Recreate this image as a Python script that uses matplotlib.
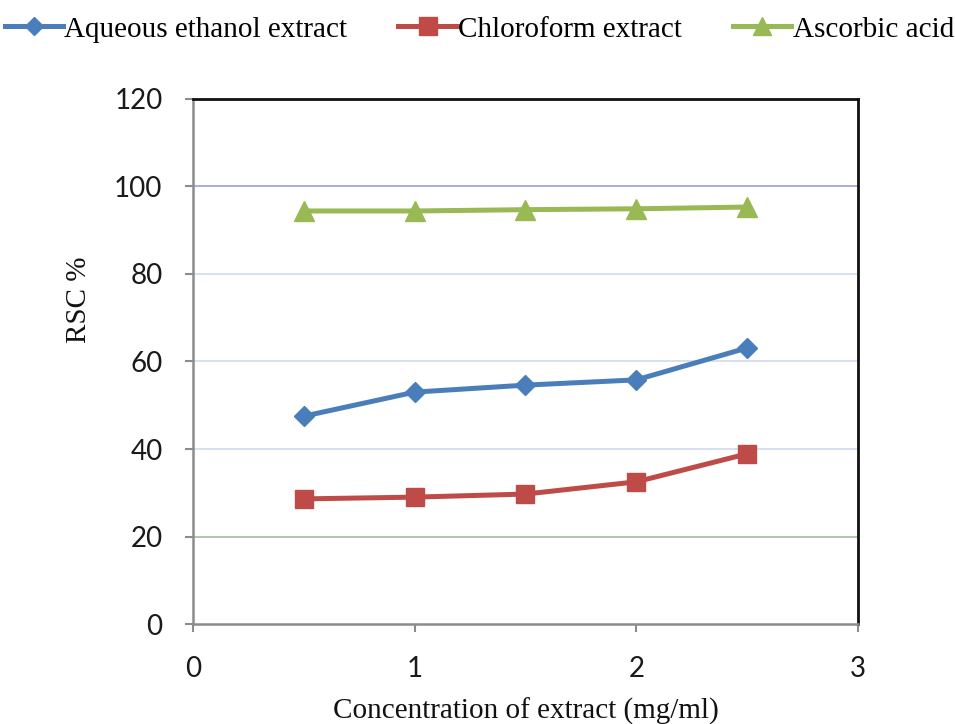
import matplotlib
matplotlib.use("Agg")
import matplotlib.pyplot as plt

# Radical scavenging capacity vs. extract concentration
concentration = [0.5, 1.0, 1.5, 2.0, 2.5]
aqueous_ethanol = [47.5, 53.0, 54.6, 55.8, 63.1]
chloroform = [28.6, 29.0, 29.7, 32.5, 38.9]
ascorbic_acid = [94.4, 94.4, 94.7, 94.9, 95.3]

series_names = ["Aqueous ethanol extract", "Chloroform extract", "Ascorbic acid"]
x_ticks = [0, 1, 2, 3]
y_ticks = [0, 20, 40, 60, 80, 100, 120]

serif = ["Liberation Serif", "DejaVu Serif"]
sans = ["Lato", "Liberation Sans", "DejaVu Sans"]

fig = plt.figure(figsize=(9.55, 7.24), dpi=100)
ax = fig.add_axes([0.2021, 0.1381, 0.8984 - 0.2021, 0.8633 - 0.1381])

# gridlines with individual colours
grid_colors = {20: "#a9c1a6", 40: "#d3ddf0", 60: "#d3ddf0", 80: "#d3ddf0", 100: "#a4a6dc"}
for yv, c in grid_colors.items():
    ax.axhline(yv, color=c, lw=1.3, zorder=1)

l1, = ax.plot(concentration, aqueous_ethanol, color="#4a7ebb", lw=3.6,
              marker="D", ms=10, zorder=3, label=series_names[0])
l2, = ax.plot(concentration, chloroform, color="#be4b48", lw=3.6,
              marker="s", ms=13.5, zorder=3, label=series_names[1])
l3, = ax.plot(concentration, ascorbic_acid, color="#98b954", lw=3.6,
              marker="^", ms=14, zorder=3, label=series_names[2])

ax.set_xlim(0, 3)
ax.set_ylim(0, 120)
ax.set_xticks(x_ticks)
ax.set_yticks(y_ticks)

for side in ("left", "bottom"):
    ax.spines[side].set_color("#8c8c8c")
    ax.spines[side].set_linewidth(1.8)
for side in ("top", "right"):
    ax.spines[side].set_color("#111111")
    ax.spines[side].set_linewidth(2.0)

ax.tick_params(axis="both", direction="out", length=6, width=1.5, color="#8c8c8c",
               labelsize=20, labelcolor="#1a1a1a")
ax.tick_params(axis="x", pad=17)
ax.tick_params(axis="y", pad=16)
for lab in ax.get_xticklabels() + ax.get_yticklabels():
    lab.set_family(sans)

ax.set_xlabel("Concentration of extract (mg/ml)", family=serif, fontsize=21,
              color="#111111", labelpad=11)
ax.set_ylabel("RSC %", family=serif, fontsize=21, color="#111111")
ax.yaxis.set_label_coords(-0.152, 0.617)

fig.legend(handles=[l1, l2, l3], loc="upper center", bbox_to_anchor=(0.502, 1.014),
           ncol=3, frameon=False, prop={"family": serif, "size": 21},
           handlelength=2.0, handletextpad=0.05, columnspacing=1.75,
           markerscale=0.95)

fig.savefig("out.png", dpi=100, facecolor="white")
